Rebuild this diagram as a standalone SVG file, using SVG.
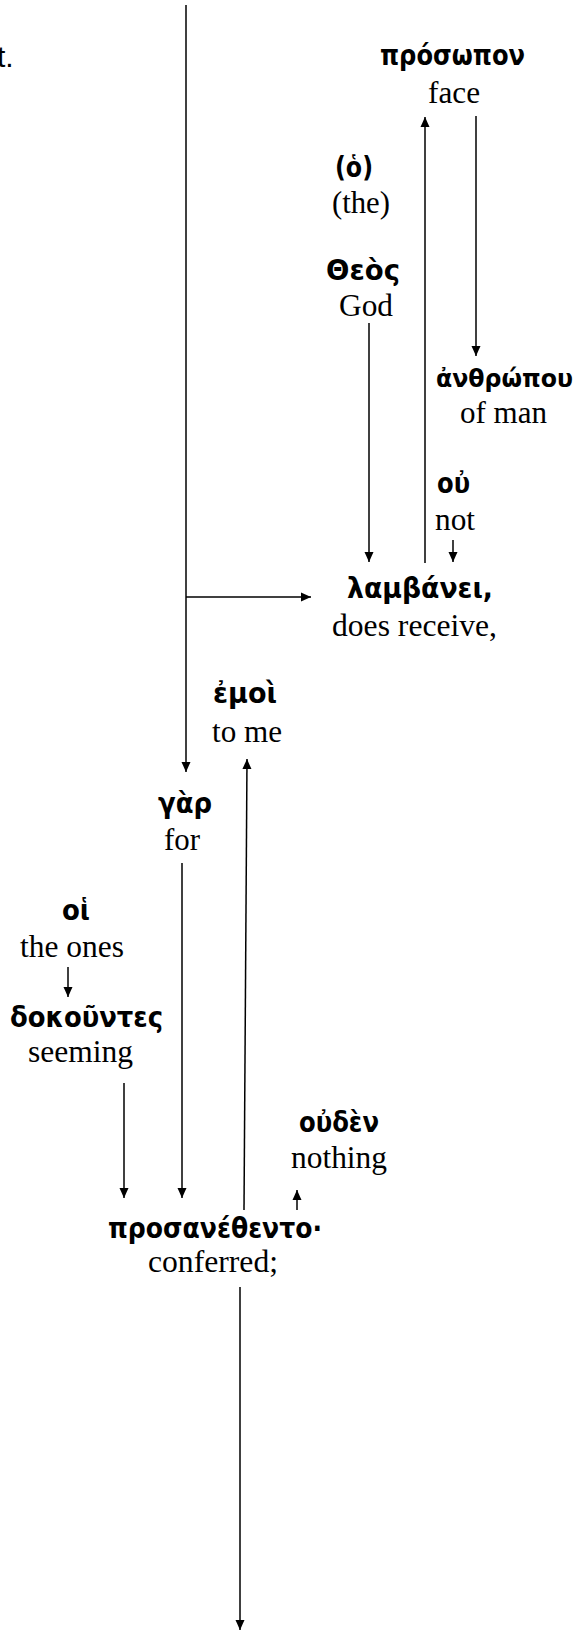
<svg xmlns="http://www.w3.org/2000/svg" width="580" height="1633" viewBox="0 0 580 1633">
<style>
.gk{font-family:"DejaVu Sans","Noto Sans",sans-serif;font-weight:bold;font-size:28px;fill:#000}
.en{font-family:"Liberation Serif","Times New Roman",serif;font-size:31px;fill:#000}
.frag{font-family:"Liberation Sans",Arial,sans-serif;font-size:30px;fill:#000}
.c{stroke:#000;stroke-width:1.5;fill:none;marker-end:url(#ah)}
</style>
<defs>
<marker id="ah" markerUnits="userSpaceOnUse" markerWidth="12" markerHeight="12" viewBox="0 0 12 12" refX="11" refY="6" orient="auto">
<path d="M1,1.5 L11,6 L1,10.5 Z" fill="#000"/>
</marker>
</defs>
<rect width="580" height="1633" fill="#fff"/>
<text class="frag" x="-3" y="67">t.</text>
<g id="connectors">
<line class="c" x1="186" y1="5" x2="186" y2="772"/>
<line class="c" x1="186" y1="597" x2="311" y2="597"/>
<line class="c" x1="425" y1="563" x2="425" y2="117"/>
<line class="c" x1="476" y1="116" x2="476" y2="356"/>
<line class="c" x1="369" y1="323" x2="369" y2="562"/>
<line class="c" x1="453" y1="540" x2="453" y2="562"/>
<line class="c" x1="182" y1="863" x2="182" y2="1198"/>
<line class="c" x1="124" y1="1083" x2="124" y2="1198"/>
<line class="c" x1="68" y1="967" x2="68" y2="997"/>
<line class="c" x1="244" y1="1210" x2="247" y2="759"/>
<line class="c" x1="297" y1="1210" x2="297" y2="1190"/>
<line class="c" x1="240" y1="1287" x2="240" y2="1630"/>
</g>
<g id="prosopon">
<text class="gk" x="380" y="65" textLength="145" lengthAdjust="spacingAndGlyphs">πρόσωπον</text>
<text class="en" x="428" y="103" textLength="52" lengthAdjust="spacingAndGlyphs">face</text>
</g>
<g id="ho">
<text class="gk" x="335" y="177" textLength="38" lengthAdjust="spacingAndGlyphs">(ὁ)</text>
<text class="en" x="332" y="213" textLength="58" lengthAdjust="spacingAndGlyphs">(the)</text>
</g>
<g id="theos">
<text class="gk" x="326" y="280" textLength="74" lengthAdjust="spacingAndGlyphs">Θεὸς</text>
<text class="en" x="339" y="316" textLength="54" lengthAdjust="spacingAndGlyphs">God</text>
</g>
<g id="anthropou">
<text class="gk" x="436" y="387" style="font-size:25px" textLength="137" lengthAdjust="spacingAndGlyphs">ἀνθρώπου</text>
<text class="en" x="460" y="423" textLength="87" lengthAdjust="spacingAndGlyphs">of man</text>
</g>
<g id="ou">
<text class="gk" x="437" y="493" textLength="33" lengthAdjust="spacingAndGlyphs">οὐ</text>
<text class="en" x="435" y="530" textLength="40" lengthAdjust="spacingAndGlyphs">not</text>
</g>
<g id="lambanei">
<text class="gk" x="347" y="598" textLength="146" lengthAdjust="spacingAndGlyphs">λαμβάνει,</text>
<text class="en" x="332" y="636" textLength="165" lengthAdjust="spacingAndGlyphs">does receive,</text>
</g>
<g id="emoi">
<text class="gk" x="213" y="703" textLength="64" lengthAdjust="spacingAndGlyphs">ἐμοὶ</text>
<text class="en" x="212" y="742" textLength="70" lengthAdjust="spacingAndGlyphs">to me</text>
</g>
<g id="gar">
<text class="gk" x="158" y="813" textLength="54" lengthAdjust="spacingAndGlyphs">γὰρ</text>
<text class="en" x="164" y="850" textLength="36" lengthAdjust="spacingAndGlyphs">for</text>
</g>
<g id="hoi">
<text class="gk" x="62" y="920" textLength="28" lengthAdjust="spacingAndGlyphs">οἱ</text>
<text class="en" x="20" y="957" textLength="104" lengthAdjust="spacingAndGlyphs">the ones</text>
</g>
<g id="dokountes">
<text class="gk" x="10" y="1027" textLength="153" lengthAdjust="spacingAndGlyphs">δοκοῦντες</text>
<text class="en" x="28" y="1062" textLength="105" lengthAdjust="spacingAndGlyphs">seeming</text>
</g>
<g id="ouden">
<text class="gk" x="299" y="1132" textLength="80" lengthAdjust="spacingAndGlyphs">οὐδὲν</text>
<text class="en" x="291" y="1168" textLength="96" lengthAdjust="spacingAndGlyphs">nothing</text>
</g>
<g id="prosanethento">
<text class="gk" x="108" y="1238" textLength="214" lengthAdjust="spacingAndGlyphs">προσανέθεντο·</text>
<text class="en" x="148" y="1272" textLength="130" lengthAdjust="spacingAndGlyphs">conferred;</text>
</g>
</svg>
